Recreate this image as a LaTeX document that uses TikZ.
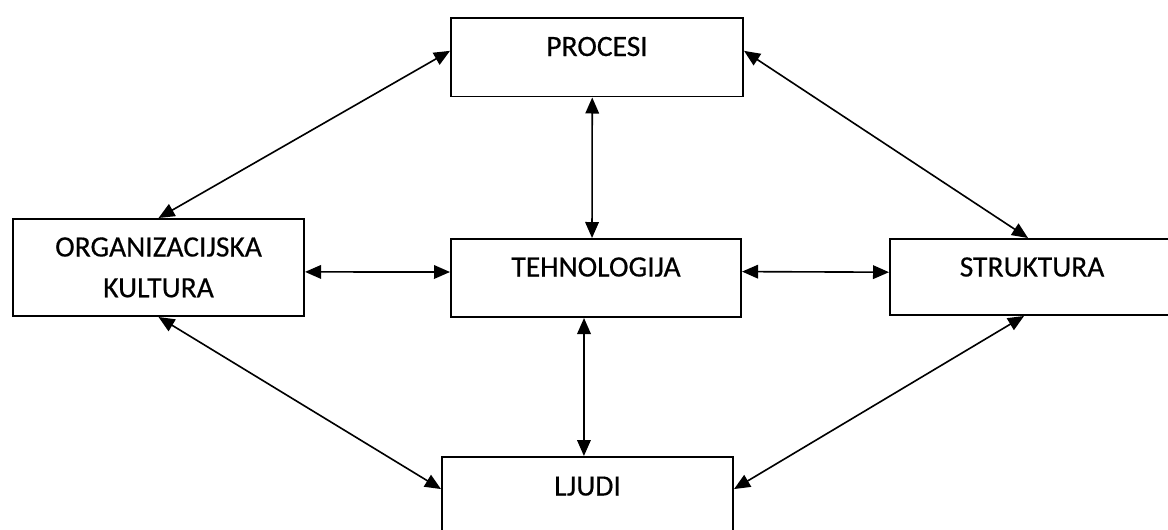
\documentclass[tikz,border=0pt]{standalone}
\usepackage{fontspec}
\setmainfont{Carlito}[FakeBold=0.4]
\usetikzlibrary{arrows.meta}

\tikzset{
  blok/.style={draw, line width=1.4pt, anchor=north west, inner xsep=0pt, inner ysep=0pt,
    text height=0.95cm, font=\fontsize{21}{29}\selectfont},
  veza/.style={line width=1.15pt,
    {Triangle[length=0.4cm,width=0.34cm]}-{Triangle[length=0.4cm,width=0.34cm]}}
}

\begin{document}
\begin{tikzpicture}[x=0.025cm, y=-0.025cm]
\useasboundingbox (0,0) rectangle (1168,529);

% boxes
\node[blok, minimum width=7.3cm, text depth=1.0125cm] (procesi) at (450,17) {PROCESI};
\node[blok, minimum width=7.25cm, text height=0.9375cm, text depth=1.0125cm] (tehnologija) at (450,238) {TEHNOLOGIJA};
\node[blok, minimum width=7.275cm, text width=7.275cm, align=center, text height=0.9375cm, text depth=1.4875cm] (kultura) at (12,218) {ORGANIZACIJSKA\\KULTURA};
\node[blok, minimum width=7.1cm, text height=0.9375cm, text depth=0.9625cm] (struktura) at (889,238) {STRUKTURA};
\node[blok, minimum width=7.275cm, text height=0.9625cm, text depth=0.99cm] (ljudi) at (441,456) {LJUDI};

% veze
\draw[veza] ([xshift=-0.12cm]procesi.south) -- ([xshift=-0.1cm]tehnologija.north);
\draw[veza] ([xshift=-0.3cm]tehnologija.south) -- ([xshift=-0.09cm]ljudi.north);
\draw[veza] ([yshift=-0.11cm]kultura.east) -- ([yshift=0.15cm]tehnologija.west);
\draw[veza] ([yshift=0.16cm]tehnologija.east) -- ([yshift=0.12cm]struktura.west);
\draw[veza] (kultura.north) -- ([yshift=0.16cm]procesi.west);
\draw[veza] ([yshift=0.16cm]procesi.east) -- ([xshift=-0.1cm]struktura.north);
\draw[veza] (kultura.south) -- ([yshift=0.175cm]ljudi.west);
\draw[veza] ([xshift=-0.2cm]struktura.south) -- ([yshift=0.175cm]ljudi.east);

\end{tikzpicture}
\end{document}
